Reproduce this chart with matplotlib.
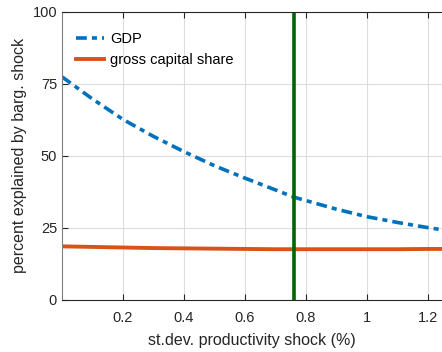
import matplotlib.pyplot as plt

plt.rcParams['font.family'] = ['Liberation Sans', 'DejaVu Sans']

# shock size grid and variance shares (%)
sd_shock = [0.0, 0.1, 0.2, 0.3, 0.4, 0.5, 0.6, 0.7, 0.76, 0.8, 0.9, 1.0, 1.1, 1.2, 1.25]
gdp = [77.5, 69.8, 62.7, 56.8, 51.5, 46.6, 42.3, 38.2, 35.7, 34.5, 31.5, 28.9, 26.9, 25.1, 24.3]
capital_share = [18.6, 18.4, 18.2, 18.0, 17.9, 17.8, 17.7, 17.6, 17.6, 17.6, 17.6, 17.6, 17.6, 17.7, 17.7]
calibrated_sd = 0.761

fig = plt.figure(figsize=(4.42, 3.52), dpi=100)
ax = fig.add_axes([0.140, 0.148, 0.86, 0.818])

ax.plot(sd_shock, gdp, '-.', color=(0, 0.447, 0.741), lw=2.6, label='GDP',
        dashes=(3.0, 1.4, 1.4, 1.4))
ax.plot(sd_shock, capital_share, '-', color=(0.85, 0.325, 0.098), lw=2.8,
        label='gross capital share')
ax.axvline(calibrated_sd, color=(0, 0.4, 0), lw=2.6)

ax.set_xlim(0.0, 1.246)
ax.set_ylim(0, 100)
ax.set_xticks([0.2, 0.4, 0.6, 0.8, 1.0, 1.2])
ax.set_xticklabels(['0.2', '0.4', '0.6', '0.8', '1', '1.2'])
ax.set_yticks([0, 25, 50, 75, 100])
ax.grid(True, color='#dddddd', lw=0.8)
ax.set_axisbelow(True)
ax.tick_params(direction='in', length=4, top=True, labelsize=10.5,
               colors='#262626', width=0.8)
ax.tick_params(axis='x', pad=8)
for side in ['left', 'bottom', 'top']:
    ax.spines[side].set_color('#262626')
    ax.spines[side].set_linewidth(0.8)
ax.spines['left'].set_color('#808080')
ax.spines['right'].set_visible(False)

ax.set_xlabel('st.dev. productivity shock (%)', fontsize=11.5, color='#262626',
              labelpad=6)
ax.set_ylabel('percent explained by barg. shock', fontsize=11.5, color='#262626')

ax.legend(loc='upper left', bbox_to_anchor=(-0.012, 0.995), frameon=False,
          fontsize=10.5, handlelength=1.9, handletextpad=0.4,
          borderaxespad=0.9, labelspacing=0.45)

fig.savefig('out.png', dpi=100)
